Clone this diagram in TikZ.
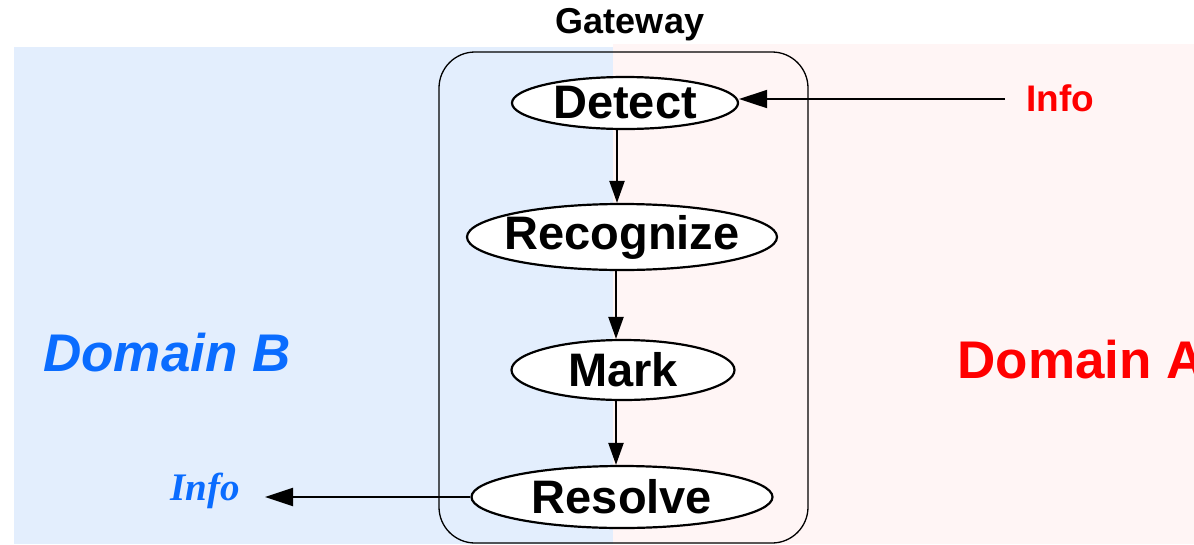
\documentclass[tikz,border=0pt]{standalone}
\usepackage{fontspec}
\setmainfont{Liberation Sans}
\newfontfamily\timesf{Liberation Serif}
\usetikzlibrary{arrows.meta,shapes.geometric}
\definecolor{bluebg}{HTML}{E3EEFD}
\definecolor{pinkbg}{HTML}{FFF5F5}
\definecolor{domblue}{HTML}{0A6CFF}
\definecolor{domred}{HTML}{FF0000}
\tikzset{
  stage/.style={ellipse, draw, line width=2.2pt, fill=white, inner sep=0pt,
    font=\fontsize{47}{52}\selectfont\bfseries},
  flow/.style={line width=2.2pt, -{Triangle[length=22pt,width=15pt]}},
  bigflow/.style={line width=2pt, -{Triangle[length=28pt,width=18pt]}},
}
\begin{document}
\begin{tikzpicture}[x=1pt,y=-1pt]
\useasboundingbox (0,0) rectangle (1194,544);
\fill[bluebg] (14,47) rectangle (613,544);
\fill[pinkbg] (613,44) rectangle (1194,544);
\draw[line width=1.3pt, rounded corners=36pt] (439,52) rectangle (808,543);
\node[font=\fontsize{36}{40}\selectfont\bfseries] (gw) at (630,25) {Gateway};
\node[stage, minimum width=226pt, minimum height=52pt] (detect) at (625,103) {Detect};
\node[stage, inner xsep=-9pt, minimum width=310pt, minimum height=66pt] (recog) at (622,237) {Recognize};
\node[stage, minimum width=223pt, minimum height=60pt] (mark) at (623,370) {Mark};
\node[stage, minimum width=301pt, minimum height=62pt] (resolve) at (622,497) {Resolve};
\node[font=\fontsize{37}{40}\selectfont\bfseries, text=domred] (infoA) at (1060,98) {Info};
\node[font=\fontsize{39}{42}\selectfont\timesf\bfseries\itshape, text=domblue] (infoB) at (205,491) {Info};
\node[font=\fontsize{53}{58}\selectfont\bfseries\itshape, text=domblue] (domB) at (167,353) {Domain B};
\node[font=\fontsize{53}{58}\selectfont\bfseries, text=domred, anchor=west] (domA) at (954,360) {Domain A};
\coordinate (inA) at (1005,99);
\coordinate (outB) at (265,497);
\draw[bigflow] (inA) -- (inA -| detect.east);
\draw[flow] (detect.south -| 617,0) -- (recog.north -| 617,0);
\draw[flow] (recog.south -| 616,0) -- (mark.north -| 616,0);
\draw[flow] (mark.south -| 616,0) -- (resolve.north -| 616,0);
\draw[bigflow] (resolve.west) -- (outB);
\end{tikzpicture}
\end{document}
